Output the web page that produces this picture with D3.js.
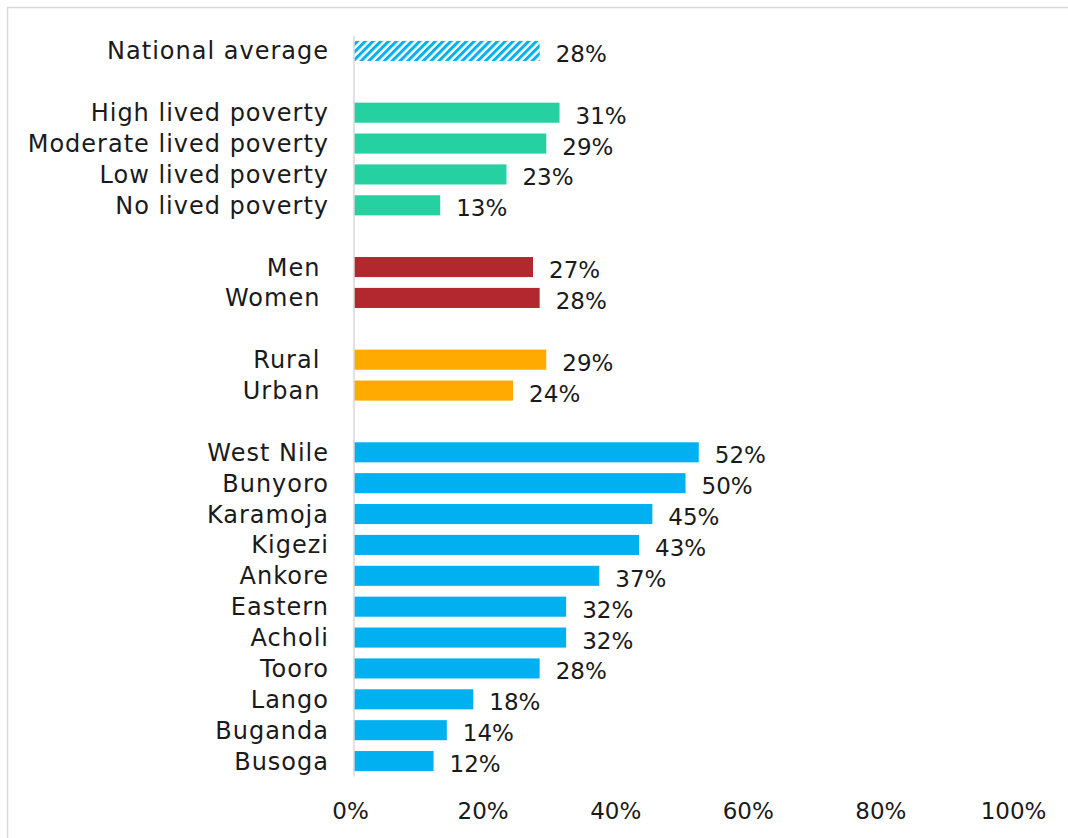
<!DOCTYPE html>
<html>
<head>
<meta charset="utf-8">
<script src="https://cdn.jsdelivr.net/npm/d3@7"></script>
<style>
  html, body { margin: 0; padding: 0; background: #fff; }
  svg { display: block; }
</style>
</head>
<body>
<svg id="chart" width="1068" height="838"></svg>
<script>
// Share of people (%) by group; blank slots ("") separate the groups.
const categories = [
  "National average", "",
  "High lived poverty", "Moderate lived poverty", "Low lived poverty", "No lived poverty", "",
  "Men ", "Women ", "",
  "Rural ", "Urban ", "",
  "West Nile", "Bunyoro", "Karamoja", "Kigezi", "Ankore", "Eastern", "Acholi",
  "Tooro", "Lango", "Buganda", "Busoga"
];
const values = [
  28, null,
  31, 29, 23, 13, null,
  27, 28, null,
  29, 24, null,
  52, 50, 45, 43, 37, 32, 32, 28, 18, 14, 12
];
const groups = [
  "national", null,
  "poverty", "poverty", "poverty", "poverty", null,
  "gender", "gender", null,
  "location", "location", null,
  "region", "region", "region", "region", "region", "region", "region",
  "region", "region", "region", "region"
];
const xTicks = [0, 20, 40, 60, 80, 100];

const groupColors = {
  poverty: "#25D1A0",
  gender: "#B3282E",
  location: "#FFAA00",
  region: "#00B0F0"
};

const svg = d3.select("#chart");
const W = 1068, H = 838;
const margin = { left: 354, right: 51, top: 35.5, bottom: 61.5 };
const fontFam = "'DejaVu Sans', sans-serif";

// outer frame (open on the right and bottom edges)
svg.append("path")
  .attr("d", `M7.5,${H + 2} V7.5 H${W + 2}`)
  .attr("fill", "none")
  .attr("stroke", "#D9D9D9")
  .attr("stroke-width", 1.5);

// hatch pattern for the national average bar
const defs = svg.append("defs");
const pat = defs.append("pattern")
  .attr("id", "hatch")
  .attr("patternUnits", "userSpaceOnUse")
  .attr("width", 5.5)
  .attr("height", 5.5)
  .attr("patternTransform", "rotate(45)");
pat.append("rect").attr("width", 5.5).attr("height", 5.5).attr("fill", "#fff");
pat.append("rect").attr("width", 3).attr("height", 5.5).attr("fill", "#00B0F0");

const idx = d3.range(categories.length);

const x = d3.scaleLinear()
  .domain([0, 100])
  .range([margin.left, W - margin.right]);

const y = d3.scaleBand()
  .domain(idx)
  .range([margin.top, H - margin.bottom])
  .paddingInner(0.35)
  .paddingOuter(0.175);

// bars
const rows = idx.filter(i => values[i] !== null);
svg.append("g")
  .selectAll("rect")
  .data(rows)
  .join("rect")
  .attr("x", x(0))
  .attr("y", i => y(i))
  .attr("width", i => x(values[i]) - x(0))
  .attr("height", y.bandwidth())
  .attr("fill", i => groups[i] === "national" ? "url(#hatch)" : groupColors[groups[i]]);

// vertical category axis line
svg.append("line")
  .attr("x1", x(0)).attr("x2", x(0))
  .attr("y1", margin.top).attr("y2", H - margin.bottom)
  .attr("stroke", "#D9D9D9")
  .attr("stroke-width", 1.5);

// category labels
svg.append("g")
  .selectAll("text")
  .data(rows)
  .join("text")
  .attr("x", x(0) - 25)
  .attr("y", i => y(i) + y.bandwidth() / 2 + 8.5)
  .attr("text-anchor", "end")
  .attr("font-family", fontFam)
  .attr("font-size", 24)
  .attr("letter-spacing", 1)
  .attr("fill", "#1a1a1a")
  .style("white-space", "pre")
  .text(i => categories[i]);

// value labels
svg.append("g")
  .selectAll("text")
  .data(rows)
  .join("text")
  .attr("x", i => x(values[i]) + 16)
  .attr("y", i => y(i) + y.bandwidth() / 2 + 11)
  .attr("font-family", fontFam)
  .attr("font-size", 23)
  .attr("fill", "#1a1a1a")
  .text(i => values[i] + "%");

// x axis tick labels (no axis line)
const xAxis = d3.axisBottom(x)
  .tickValues(xTicks)
  .tickFormat(d => d + "%")
  .tickSize(0)
  .tickPadding(0);
const gx = svg.append("g")
  .attr("transform", `translate(0, 800)`)
  .call(xAxis);
gx.select(".domain").remove();
gx.selectAll("text")
  .attr("font-family", fontFam)
  .attr("font-size", 23)
  .attr("fill", "#1a1a1a")
  .attr("dy", 0)
  .attr("y", 19)
  .attr("dx", -4);
</script>
</body>
</html>
